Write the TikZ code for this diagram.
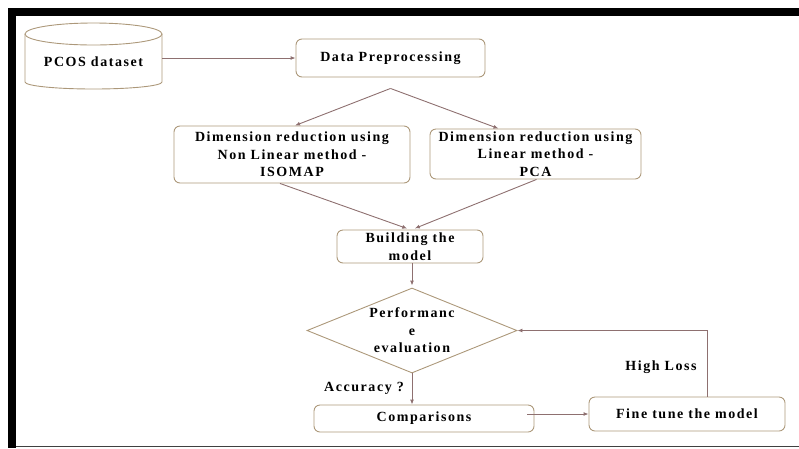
\documentclass[tikz,border=0pt]{standalone}
\usepackage{fontspec}
\newfontfamily\flowfont[LetterSpace=11]{Liberation Serif}
\usepackage{xcolor}
\usetikzlibrary{shapes.geometric}
\usetikzlibrary{arrows.meta}
\usetikzlibrary{positioning}
\definecolor{boxcol}{RGB}{172,152,122}
\definecolor{arrowcol}{RGB}{142,112,112}
\tikzset{
  flowtext/.style={font=\flowfont\bfseries\fontsize{14}{17.5}\selectfont},
  procbox/.style={flowtext, draw=boxcol, line width=0.9pt, rounded corners=6pt, align=center, inner sep=0pt},
  decbox/.style={flowtext, draw=boxcol, line width=0.9pt, diamond, aspect=2.47, align=center, inner sep=1pt},
  flow/.style={draw=arrowcol, line width=0.9pt, -{Latex[length=5pt,width=4pt]}},
}
\begin{document}
\begin{tikzpicture}[x=1pt, y=-1pt]
\useasboundingbox (0,0) rectangle (799,448);
% frame
\fill[black] (8,7.5) rectangle (799,15.7);
\fill[black] (8,7.5) rectangle (16,448);
\draw[black!75, line width=1pt] (16,446.5) -- (799,446.5);
% dataset
\node[flowtext, minimum width=137pt, minimum height=66pt, inner sep=0pt] (pcos) at (93.5,62) {PCOS dataset};
\draw[boxcol, line width=0.9pt] (93.5,34) ellipse [x radius=68.5, y radius=11];
\draw[boxcol, line width=0.9pt] (25,34) -- (25,82) arc [start angle=180, end angle=0, x radius=68.5, y radius=7] -- (162,34);
% process boxes
\node[procbox, minimum width=189pt, minimum height=38pt] (prep) at (390.5,58) {Data Preprocessing};
\node[procbox, minimum width=236pt, minimum height=57pt] (iso) at (292,154.5) {Dimension reduction using\\Non Linear method -\\ISOMAP};
\node[procbox, minimum width=211pt, minimum height=50pt] (pca) at (535.5,154) {Dimension reduction using\\Linear method -\\PCA};
\node[procbox, minimum width=146pt, minimum height=33pt] (build) at (410,246.5) {Building the\\model};
\node[decbox, minimum width=210pt, minimum height=85pt] (perf) at (412,330.5) {Performanc\\e\\evaluation};
\node[procbox, minimum width=220pt, minimum height=27pt] (comp) at (424,418.5) {Comparisons};
\node[procbox, minimum width=196pt, minimum height=34pt] (fine) at (687,414) {Fine tune the model};
% labels
\node[flowtext, anchor=east, inner sep=0pt] (acc) at (404,388) {Accuracy ?};
\node[flowtext, inner sep=0pt] (loss) at (661,367) {High Loss};
% arrows
\coordinate[below=11pt of prep.south] (split);
\draw[flow] (pcos.east |- prep.west) -- (prep.west);
\draw[flow] (split) -- ([xshift=3pt]iso.north);
\draw[flow] (split) -- ([xshift=-37pt]pca.north);
\draw[flow, shorten >=3pt] ([xshift=-12pt]iso.south) -- (build.north);
\draw[flow, shorten >=3pt] ([xshift=1pt]pca.south) -- ([xshift=2pt]build.north);
\draw[flow, shorten >=2pt] (build.south -| perf.north) -- (perf.north);
\draw[flow] (perf.south) -- (perf.south |- comp.north);
\draw[flow] ([xshift=-7pt]comp.east |- fine.west) -- (fine.west);
\draw[flow] ([xshift=20pt]fine.north) |- (perf.east);
\end{tikzpicture}
\end{document}
